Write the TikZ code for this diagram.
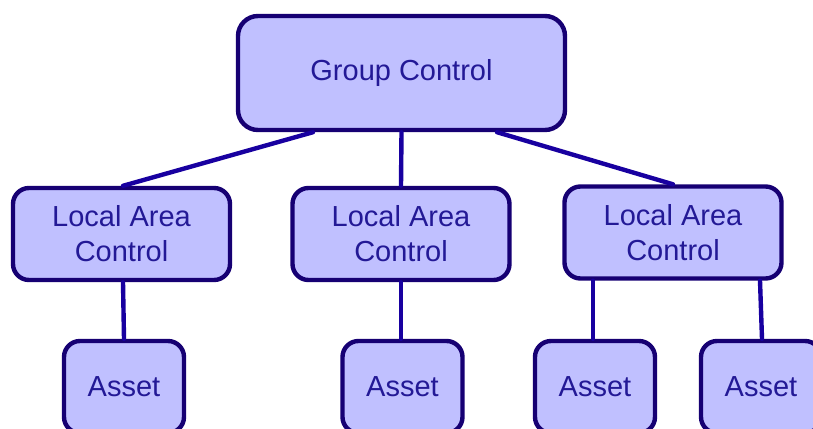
\documentclass[tikz,border=0pt]{standalone}
\usepackage{fontspec}
\setmainfont{Liberation Sans}
\usepackage{tikz}
\usetikzlibrary{positioning, arrows.meta}
\usepackage{xcolor}
\definecolor{boxfill}{RGB}{192, 192, 255}
\definecolor{boxline}{RGB}{22, 0, 115}
\definecolor{linkline}{RGB}{24, 0, 160}
\definecolor{boxtext}{RGB}{35, 25, 150}

\begin{document}
\begin{tikzpicture}[x=1pt, y=-1pt, line width=4.4pt,
    box/.style={draw=boxline, fill=boxfill, rounded corners=16pt, inner sep=0pt,
        text=boxtext, align=center, font=\fontsize{29}{35}\selectfont},
    groupbox/.style={box, minimum width=327pt, minimum height=114pt, rounded corners=20pt},
    areabox/.style={box, minimum width=217pt, minimum height=92pt},
    assetbox/.style={box, minimum width=120pt, minimum height=92pt},
    link/.style={draw=linkline, line cap=round}]
    \useasboundingbox (0,0) rectangle (813,428);

    \coordinate (g) at (401.5,73);
    \coordinate (l1) at (121.5,234); \coordinate (l2) at (401,234); \coordinate (l3) at (673,232.5);
    \coordinate (s1) at (124,387); \coordinate (s2) at (402.5,387);
    \coordinate (s3) at (595,387); \coordinate (s4) at (761,387);

    \node[groupbox] (group) at (g) {Group Control};
    \node[areabox] (lac1) at (l1) {Local Area\\Control};
    \node[areabox] (lac2) at (l2) {Local Area\\Control};
    \node[areabox] (lac3) at (l3) {Local Area\\Control};
    \node[assetbox] (asset1) at (s1) {Asset};
    \node[assetbox] (asset2) at (s2) {Asset};
    \node[assetbox] (asset3) at (s3) {Asset};
    \node[assetbox] (asset4) at (s4) {Asset};

    % links between the levels
    \draw[link] ([xshift=-88.5pt]group.south) -- ([xshift=1.5pt]lac1.north);
    \draw[link] (group.south) -- (lac2.north);
    \draw[link] ([xshift=95.5pt]group.south) -- (lac3.north);

    \draw[link] ([xshift=1.5pt]lac1.south) -- (asset1.north);
    \draw[link] (lac2.south) -- ([xshift=-1.5pt]asset2.north);
    \draw[link] ([xshift=-80pt]lac3.south) -- ([xshift=-2pt]asset3.north);
    \draw[link] ([xshift=87pt]lac3.south) -- ([xshift=1pt]asset4.north);
\end{tikzpicture}
\end{document}
